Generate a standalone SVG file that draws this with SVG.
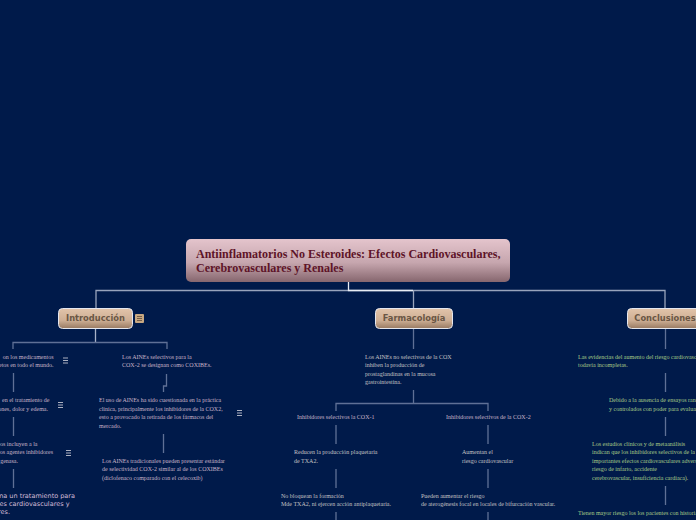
<svg xmlns="http://www.w3.org/2000/svg" width="696" height="520" viewBox="0 0 696 520">
<style>
.t{font-family:"Liberation Serif",serif;font-size:6px}
.p{fill:#c8b4c8}.g{fill:#c4c2c4}.v{fill:#a8cc88}
.e{text-anchor:end}
.s{font-family:"DejaVu Sans",sans-serif;font-size:6.5px;fill:#d4bcd8}
.n{font-family:"DejaVu Sans",sans-serif;font-size:8.3px;font-weight:bold;fill:#6a5644;text-anchor:middle}
.b{fill:url(#tan);stroke:#e4e6ee;stroke-width:1}
.c{fill:none;stroke:#5f7096;stroke-width:1.3}
.i{stroke:#d8d8e0;stroke-width:.8;fill:none}
</style>
<defs>
<linearGradient id="root" x1="0" y1="0" x2="0" y2="1"><stop offset="0" stop-color="#e4c4cc"/><stop offset=".55" stop-color="#c6a6ae"/><stop offset="1" stop-color="#86666e"/></linearGradient>
<linearGradient id="tan" x1="0" y1="0" x2="0" y2="1"><stop offset="0" stop-color="#e2c4aa"/><stop offset=".6" stop-color="#cdae94"/><stop offset="1" stop-color="#987a62"/></linearGradient>
</defs>
<rect width="696" height="520" fill="#001a4a"/>
<g id="connectors" class="c">
<path d="M96 308V290.500H665V308M413.500 290V308" stroke="#98a4bc"/>
<path d="M348.500 282V290.500H413" stroke="#e8ecf4"/>
<path d="M95.500 329V343" stroke="#a8b2c8"/>
<path d="M13 349V342.500H167V349"/>
<path d="M13.500 373V392M13.500 417V436M13.500 469V488M166.500 374V386H163.500V392M163.500 434V453"/>
<path d="M413.500 329V349M413.500 390V403M336 411V403.500H488V411M336 425V444M488 425V444M336 469V488M488 469V488M336 512V520M488 512V520"/>
<path d="M665.500 329V349M665.500 373V392M665.500 417V436M665.500 486V505"/>
</g>
<g id="root-node"><rect x="186" y="239" width="324" height="43" rx="5" fill="url(#root)"/>
<text font-family="Liberation Serif,serif" font-size="12" font-weight="bold" fill="#5e1428"><tspan x="196" y="258">Antiinflamatorios No Esteroides: Efectos Cardiovasculares,</tspan><tspan x="196" y="272">Cerebrovasculares y Renales</tspan></text></g>
<g id="introduccion"><rect class="b" x="58.500" y="308.500" width="74" height="20" rx="4"/><text class="n" x="95.500" y="321">Introducción</text>
<rect x="135" y="314" width="9" height="9" rx="1" fill="#c8a882"/><path d="M137 316.500h5M137 318.500h5M137 320.500h5" stroke="#5e4a3a" stroke-width=".8"/></g>
<g id="farmacologia"><rect class="b" x="375.500" y="308.500" width="77" height="20" rx="4"/><text class="n" x="414" y="321">Farmacología</text></g>
<g id="conclusiones"><rect class="b" x="627.500" y="308.500" width="76" height="20" rx="4"/><text class="n" x="665" y="321">Conclusiones</text></g>
<g id="intro-1"><text class="t p e"><tspan x="53.500" y="359">on los medicamentos</tspan><tspan x="53.500" y="367">etos en todo el mundo.</tspan></text><path class="i" d="M63 358h5M63 360.500h5M63 363h5"/></g>
<g id="intro-2"><text class="t p e"><tspan x="49.500" y="402">en el tratamiento de</tspan><tspan x="48" y="411">ones, dolor y edema.</tspan></text><path class="i" d="M58 402.500h5M58 405h5M58 407.500h5"/></g>
<g id="intro-3"><text class="t p e"><tspan x="37.500" y="446">os incluyen a la</tspan><tspan x="53" y="454">os agentes inhibidores</tspan><tspan x="18" y="463">genasa.</tspan></text><path class="i" d="M66 450.500h5M66 453h5M66 455.500h5"/></g>
<g id="intro-4"><text class="s e"><tspan x="75" y="498">na un tratamiento para</tspan><tspan x="69.500" y="506">es cardiovasculares y</tspan><tspan x="10" y="514">res.</tspan></text></g>
<g id="coxib"><text class="t p"><tspan x="122" y="359">Los AINEs selectivos para la</tspan><tspan x="122" y="367">COX-2 se designan como COXIBEs.</tspan></text></g>
<g id="uso"><text class="t p"><tspan x="99" y="402">El uso de AINEs ha sido cuestionada en la práctica</tspan><tspan x="99" y="411">clínica, principalmente los inhibidores de la COX2,</tspan><tspan x="99" y="419">esto a provocado la retirada de los fármacos del</tspan><tspan x="99" y="428">mercado.</tspan></text><path class="i" d="M237 410.500h5M237 413h5M237 415.500h5"/></g>
<g id="tradicionales"><text class="t p"><tspan x="102" y="463">Los AINEs tradicionales pueden presentar estándar</tspan><tspan x="102" y="471">de selectividad COX-2 similar al de los COXIBEs</tspan><tspan x="102" y="480">(diclofenaco comparado con el celecoxib)</tspan></text></g>
<g id="no-selectivos"><text class="t g"><tspan x="365" y="359">Los AINEs no selectivos de la COX</tspan><tspan x="365" y="367">inhiben la producción de</tspan><tspan x="365" y="376">prostaglandinas en la mucosa</tspan><tspan x="365" y="384">gastrointestina.</tspan></text></g>
<g id="cox1"><text class="t p" x="297" y="419">Inhibidores selectivos la COX-1</text></g>
<g id="cox2"><text class="t p" x="446" y="419">Inhibidores selectivos de la COX-2</text></g>
<g id="reducen"><text class="t g"><tspan x="294" y="454">Reducen la producción plaquetaria</tspan><tspan x="294" y="463">de TXA2.</tspan></text></g>
<g id="aumentan"><text class="t g"><tspan x="462" y="454">Aumentan el</tspan><tspan x="462" y="463">riesgo cardiovascular</tspan></text></g>
<g id="no-bloquean"><text class="t g"><tspan x="281" y="498">No bloquean la formación</tspan><tspan x="281" y="506">Mde TXA2, ni ejercen acción antiplaquetaria.</tspan></text></g>
<g id="pueden"><text class="t g"><tspan x="421" y="498">Pueden aumentar el riesgo</tspan><tspan x="421" y="506">de aterogénesis focal en locales de bifurcación vascular.</tspan></text></g>
<g id="evidencias"><text class="t v"><tspan x="578" y="359">Las evidencias del aumento del riesgo cardiovascular</tspan><tspan x="578" y="367">todavía incompletas.</tspan></text></g>
<g id="debido"><text class="t v"><tspan x="609" y="402">Debido a la ausencia de ensayos randomizados</tspan><tspan x="609" y="411">y controlados con poder para evaluar</tspan></text></g>
<g id="estudios"><text class="t v"><tspan x="592" y="446">Los estudios clínicos y de metaanálisis</tspan><tspan x="592" y="454">indican que los inhibidores selectivos de la</tspan><tspan x="592" y="463">importantes efectos cardiovasculares adversos</tspan><tspan x="592" y="471">riesgo de infarto, accidente</tspan><tspan x="592" y="480">cerebrovascular, insuficiencia cardiaca).</tspan></text></g>
<g id="tienen"><text class="t v"><tspan x="578" y="515">Tienen mayor riesgo los los pacientes con historia</tspan></text></g>
</svg>
